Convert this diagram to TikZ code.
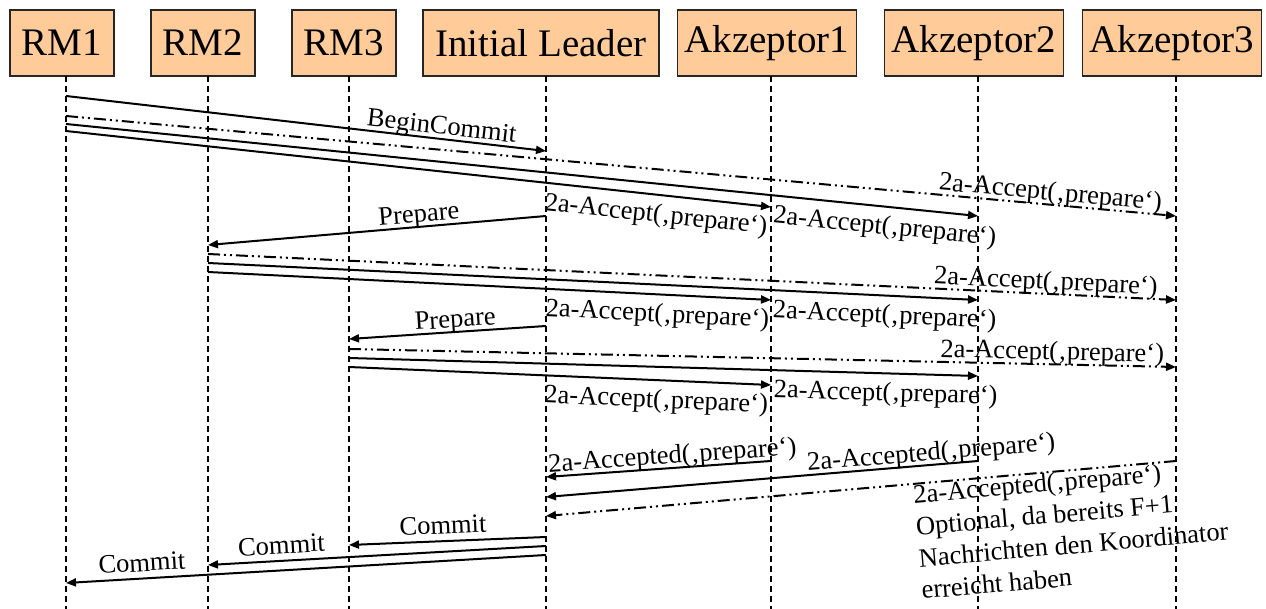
\documentclass[tikz,border=0pt]{standalone}
\usepackage{fontspec}
\setmainfont{Liberation Serif}
\usepackage{tikz}
\usetikzlibrary{positioning, arrows, arrows.meta}
\definecolor{actorfill}{RGB}{255,204,153}

\begin{document}
\begin{tikzpicture}[x=0.5pt, y=-0.5pt,
    actor/.style={draw=black!85, line width=0.6pt, fill=actorfill, minimum height=33pt, minimum width=52pt, inner xsep=3.5pt, font=\fontsize{19.5}{23}\selectfont},
    lifeline/.style={line width=0.6pt, dash pattern=on 3pt off 2pt},
    msg/.style={line width=1pt, -{Triangle[length=5pt,width=4pt]}},
    optmsg/.style={msg, dash pattern=on 6pt off 2pt on 1pt off 2pt on 1pt off 2pt},
    lbl/.style={font=\fontsize{13.25}{16}\selectfont, sloped, inner sep=1pt}]
            \useasboundingbox (0, 0) rectangle (1266, 609);

            \node[actor] (rm1) at (62, 43) {RM1};
            \node[actor] (rm2) at (203, 43) {RM2};
            \node[actor] (rm3) at (344, 43) {RM3};
            \node[actor, minimum width=118pt] (leader) at (541, 43) {Initial Leader};
            \node[actor] (akz1) at (767, 43) {Akzeptor1};
            \node[actor] (akz2) at (974, 43) {Akzeptor2};
            \node[actor] (akz3) at (1172, 43) {Akzeptor3};

            \coordinate (rm1top) at (66, 76);
            \coordinate (rm2top) at (208, 76);
            \coordinate (rm3top) at (349, 76);
            \coordinate (leadertop) at (546, 76);
            \coordinate (akz1top) at (771, 76);
            \coordinate (akz2top) at (978, 76);
            \coordinate (akz3top) at (1176, 76);

            \draw [lifeline] (rm1top) -- (rm1top |- 0, 609);
            \draw [lifeline] (rm2top) -- (rm2top |- 0, 609);
            \draw [lifeline] (rm3top) -- (rm3top |- 0, 609);
            \draw [lifeline] (leadertop) -- (leadertop |- 0, 609);
            \draw [lifeline] (akz1top) -- (akz1top |- 0, 609);
            \draw [lifeline] (akz2top) -- (akz2top |- 0, 609);
            \draw [lifeline] (akz3top) -- (akz3top |- 0, 609);

            \draw [msg] (rm1top |- 0, 96) -- node[lbl, above=-2pt, pos=0.78] (begin) {BeginCommit} (leadertop |- 0, 151);
            \draw [optmsg] (rm1top |- 0, 116) -- node[lbl, above=-2pt, pos=0.886] (acc13) {2a-Accept(‚prepare‘)} (akz3top |- 0, 216);
            \draw [msg] (rm1top |- 0, 124) -- node[lbl, below=3pt, pos=0.9] (acc12) {2a-Accept(‚prepare‘)} (akz2top |- 0, 216);
            \draw [msg] (rm1top |- 0, 131) -- node[lbl, below=3pt, pos=0.84] (acc11) {2a-Accept(‚prepare‘)} (akz1top |- 0, 207);

            \draw [msg] (leadertop |- 0, 216) -- node[lbl, above=-2pt, pos=0.373] (prep2) {Prepare} (rm2top |- 0, 245);
            \draw [optmsg] (rm2top |- 0, 254) -- node[lbl, above=-2pt, pos=0.865] (acc23) {2a-Accept(‚prepare‘)} (akz3top |- 0, 300);
            \draw [msg] (rm2top |- 0, 263) -- node[lbl, below=3pt, pos=0.88] (acc22) {2a-Accept(‚prepare‘)} (akz2top |- 0, 300);
            \draw [msg] (rm2top |- 0, 272) -- node[lbl, below=3pt, pos=0.8] (acc21) {2a-Accept(‚prepare‘)} (akz1top |- 0, 300);

            \draw [msg] (leadertop |- 0, 326) -- node[lbl, above=-2pt, pos=0.457] (prep3) {Prepare} (rm3top |- 0, 339);
            \draw [optmsg] (rm3top |- 0, 349) -- node[lbl, above=-2pt, pos=0.85] (acc33) {2a-Accept(‚prepare‘)} (akz3top |- 0, 367);
            \draw [msg] (rm3top |- 0, 358) -- node[lbl, below=3pt, pos=0.854] (acc32) {2a-Accept(‚prepare‘)} (akz2top |- 0, 376);
            \draw [msg] (rm3top |- 0, 367) -- node[lbl, below=3pt, pos=0.73] (acc31) {2a-Accept(‚prepare‘)} (akz1top |- 0, 385);

            \draw [msg] (akz1top |- 0, 461) -- node[lbl, above=-2pt, pos=0.435] (accd1) {2a-Accepted(‚prepare‘)} (leadertop |- 0, 477);
            \draw [msg] (akz2top |- 0, 461) -- node[lbl, above=-2pt, pos=0.106] (accd2) {2a-Accepted(‚prepare‘)} (leadertop |- 0, 497);
            \draw [optmsg] (akz3top |- 0, 461) -- node[lbl, anchor=north west, align=left, inner sep=0pt, pos=0.42] (accd3) {2a-Accepted(‚prepare‘)\\Optional, da bereits F+1\\Nachrichten den Koordinator\\erreicht haben} (leadertop |- 0, 516);

            \draw [msg] (leadertop |- 0, 537) -- node[lbl, above=2pt, pos=0.52] (commit3) {Commit} (rm3top |- 0, 545);
            \draw [msg] (leadertop |- 0, 546) -- node[lbl, above=2pt, pos=0.78] (commit2) {Commit} (rm2top |- 0, 565);
            \draw [msg] (leadertop |- 0, 555) -- node[lbl, above=2pt, pos=0.84] (commit1) {Commit} (rm1top |- 0, 583);
        \end{tikzpicture}
\end{document}
